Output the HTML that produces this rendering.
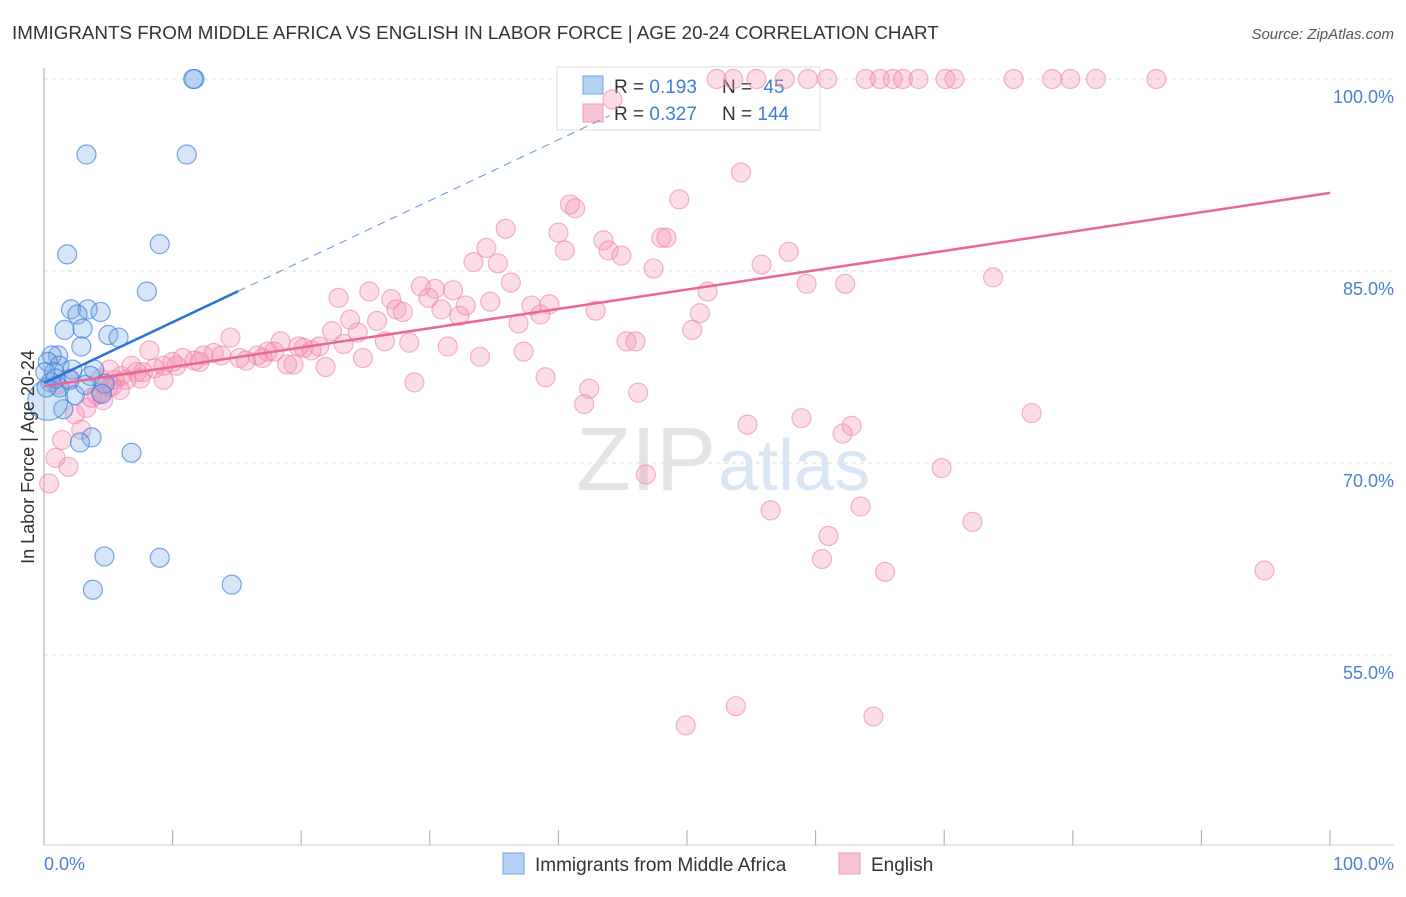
<!DOCTYPE html>
<html><head><meta charset="utf-8"><style>
body{margin:0;background:#fff;font-family:"Liberation Sans",sans-serif}
svg text{font-family:"Liberation Sans",sans-serif}
</style></head><body>
<svg width="1406" height="892">
<text x="12" y="39" font-size="18.8" fill="#333">IMMIGRANTS FROM MIDDLE AFRICA VS ENGLISH IN LABOR FORCE | AGE 20-24 CORRELATION CHART</text>
<text x="1394" y="39" font-size="15" fill="#555" font-style="italic" text-anchor="end">Source: ZipAtlas.com</text>
<g id="grid"></g>
<text x="716" y="490" font-size="90" fill="#e4e4e4" text-anchor="end" font-family="Liberation Serif">ZIP</text>
<text x="718" y="490" font-size="72" fill="#d8e6f5">atlas</text>
<g>
<rect x="557" y="67" width="263" height="63" fill="#fff" stroke="#ddd"/>
<rect x="583" y="76" width="20" height="18" fill="#b3d0f5" stroke="#6fa3e6"/>
<rect x="583" y="104" width="20" height="18" fill="#f9c5d6" stroke="#f09ab8"/>
<text x="614" y="93" font-size="19" fill="#333">R = <tspan fill="#3d7fd6">0.193</tspan></text>
<text x="722" y="93" font-size="19" fill="#333">N = <tspan fill="#3d7fd6" dx="6">45</tspan></text>
<text x="614" y="120" font-size="19" fill="#333">R = <tspan fill="#3d7fd6">0.327</tspan></text>
<text x="722" y="120" font-size="19" fill="#333">N = <tspan fill="#3d7fd6">144</tspan></text>
</g>
<g id="marks"></g>
<text transform="translate(34,457) rotate(-90)" font-size="18" fill="#333" text-anchor="middle">In Labor Force | Age 20-24</text>
<text x="44" y="870" font-size="18" fill="#4a7fd4">0.0%</text>
<text x="1394" y="870" font-size="18" fill="#4a7fd4" text-anchor="end">100.0%</text>
<g>
<rect x="503" y="853" width="21" height="21" fill="#b3d0f5" stroke="#6fa3e6"/>
<text x="535" y="871" font-size="19" fill="#333">Immigrants from Middle Africa</text>
<rect x="839" y="853" width="21" height="21" fill="#f9c5d6" stroke="#f09ab8"/>
<text x="871" y="871" font-size="19" fill="#333">English</text>
</g>
</svg>
<script>
const yTicks=[100,85,70,55];
const yTickLabels=["100.0%","85.0%","70.0%","55.0%"];
const blueX=[11.7,11.6,3.3,11.1,9.0,1.8,8.0,2.1,3.4,4.4,2.6,1.6,3.0,5.0,5.8,2.9,1.1,0.6,0.3,1.2,0.8,3.9,2.2,3.6,0.5,1.2,2.4,4.7,4.5,1.5,3.7,2.8,6.8,4.7,9.0,3.8,14.6,0.3,0.2,2.0,0.9,3.2,0.1];
const blueY=[100,100,94.1,94.1,87.1,86.3,83.4,82.0,82.0,81.8,81.6,80.4,80.5,80.0,79.8,79.1,78.4,78.4,77.9,77.6,77.1,77.3,77.3,76.8,76.3,75.9,75.3,76.2,75.4,74.2,72.0,71.6,70.8,62.7,62.6,60.1,60.5,74.9,75.9,76.5,76.6,76.1,77.1];
const pinkX=[52.3,53.6,55.4,57.6,59.4,60.9,63.9,65.0,66.0,66.8,68.0,70.1,70.8,75.4,78.4,79.8,81.8,86.5,44.2,
54.2,49.4,40.9,41.3,35.9,40.0,43.5,34.4,48.0,48.4,40.5,43.9,44.9,33.4,35.3,47.4,55.8,57.9,36.3,73.8,22.9,25.3,27.0,29.3,30.4,31.8,29.9,34.7,37.9,39.3,51.6,59.3,62.3,27.4,27.9,30.9,32.8,32.3,23.8,25.9,36.9,38.6,42.9,51.0,22.4,24.4,26.5,28.4,31.4,33.9,37.3,45.3,46.0,50.4,23.3,21.4,14.5,18.4,20.2,20.8,19.8,24.8,8.2,10.0,10.3,12.4,13.2,13.8,15.2,15.7,16.6,17.0,17.4,17.9,18.9,19.4,21.9,11.7,12.1,10.8,9.3,8.6,7.7,6.8,7.2,6.0,5.5,9.3,7.5,6.4,28.8,39.0,42.4,46.2,42.0,5.0,4.1,4.6,3.3,2.4,3.7,2.9,1.4,0.9,1.9,0.4,54.7,58.9,62.8,62.1,76.8,69.8,46.8,56.5,61.0,63.5,72.2,60.5,65.4,94.9,53.8,49.9,64.5,1.0,2.0,4.4,5.1,4.4,5.9,5.3];
const pinkY=[100,100,100,100,100,100,100,100,100,100,100,100,100,100,100,100,100,100,98.4,
92.7,90.6,90.2,89.9,88.3,88.0,87.4,86.8,87.6,87.6,86.6,86.6,86.2,85.7,85.6,85.2,85.5,86.5,84.1,84.5,82.9,83.4,82.8,83.8,83.6,83.5,82.9,82.6,82.3,82.4,83.4,84.0,84.0,82.0,81.8,82.0,82.3,81.5,81.2,81.1,80.9,81.6,81.9,81.7,80.3,80.2,79.5,79.4,79.1,78.3,78.7,79.5,79.5,80.4,79.3,79.1,79.8,79.5,79.0,78.8,79.1,78.2,78.8,77.9,77.6,78.4,78.6,78.4,78.2,78.0,78.4,78.2,78.7,78.7,77.7,77.7,77.5,78.0,77.9,78.2,77.6,77.4,77.1,77.6,77.1,76.8,76.5,76.5,76.6,76.5,76.3,76.7,75.8,75.5,74.6,75.9,75.3,74.9,74.3,73.8,75.1,72.6,71.8,70.4,69.7,68.4,73.0,73.5,72.9,72.3,73.9,69.6,69.1,66.3,64.3,66.6,65.4,62.5,61.5,61.6,51.0,49.5,50.2,76.1,76.6,76.6,77.3,75.5,75.7,76.0];
const blueTrend=[76.25,0.475];   // intercept, slope per %
const pinkTrend=[76.0,0.151];
const X0=44,X1=1330,Y100=79,PXPER=12.8;
const sx=v=>X0+(X1-X0)*v/100;
const sy=v=>Y100+(100-v)*PXPER;
const NS='http://www.w3.org/2000/svg';
function mk(tag,attrs,parent){const e=document.createElementNS(NS,tag);for(const k in attrs)e.setAttribute(k,attrs[k]);parent.appendChild(e);return e;}
const grid=document.getElementById('grid');
yTicks.forEach((t,i)=>{
 const l=mk('line',{x1:X0,x2:1394,y1:sy(t),y2:sy(t),stroke:'#ddd','stroke-dasharray':'4,4'},grid);
 
 
 const tx=mk('text',{x:1394,y:sy(t)+24,'font-size':18,fill:'#4a7fd4','text-anchor':'end'},grid);
 tx.textContent=yTickLabels[i];
 
 
});
const ax=mk('line',{x1:X0,x2:X0,y1:68,y2:845,stroke:'#aaa'},grid);


const bx=mk('line',{x1:X0,x2:1394,y1:845,y2:845,stroke:'#ccc'},grid);


for(let i=0;i<=10;i++){
 const t=mk('line',{x1:sx(i*10),x2:sx(i*10),y1:830,y2:845,stroke:'#aaa'},grid);
 
 
}
const marks=document.getElementById('marks');
pinkX.forEach((x,i)=>{
 const c=mk('circle',{cx:sx(x),cy:sy(pinkY[i]),r:9.5,fill:'rgba(244,143,177,0.3)',stroke:'rgba(236,130,168,0.6)','stroke-width':1.2},marks);
 
 
});
blueX.forEach((x,i)=>{
 const c=mk('circle',{cx:sx(x),cy:sy(blueY[i]),r:i===37?20:9.5,fill:'rgba(120,170,230,0.3)',stroke:'rgba(60,130,220,0.7)','stroke-width':1.2},marks);
 
 
});
const pl=mk('line',{x1:sx(0),y1:sy(pinkTrend[0]),x2:sx(100),y2:sy(pinkTrend[0]+pinkTrend[1]*100),stroke:'#e8669a','stroke-width':2.5},marks);


const bmax=Math.max(...blueX)+0.5;
const bl=mk('line',{x1:sx(0),y1:sy(blueTrend[0]),x2:sx(bmax),y2:sy(blueTrend[0]+blueTrend[1]*bmax),stroke:'#2a74d6','stroke-width':2.5},marks);


const bd=mk('line',{x1:sx(bmax),y1:sy(blueTrend[0]+blueTrend[1]*bmax),x2:sx(44),y2:sy(blueTrend[0]+blueTrend[1]*44),stroke:'#5b95df','stroke-width':1,'stroke-dasharray':'8,6'},marks);


</script>
</body></html>
